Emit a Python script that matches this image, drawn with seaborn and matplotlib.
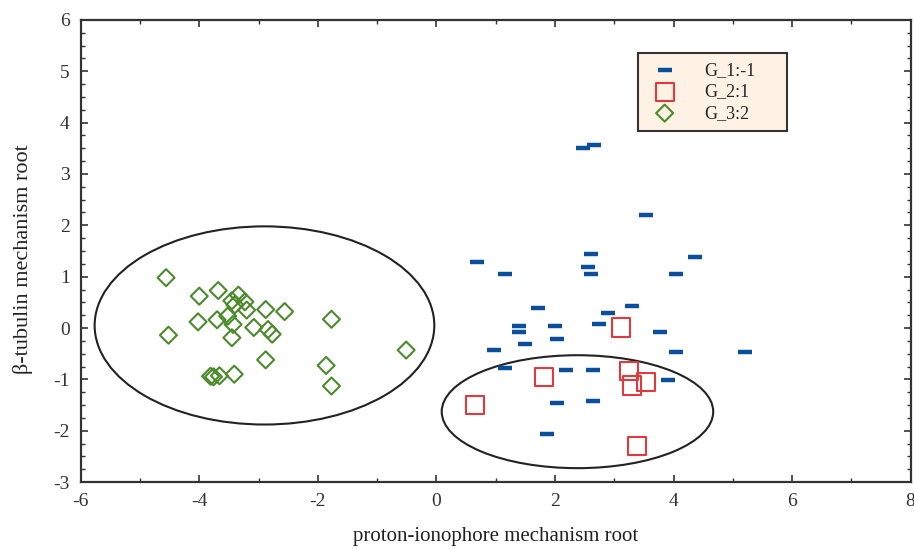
import matplotlib
matplotlib.use('Agg')
import matplotlib.pyplot as plt
import seaborn as sns
import pandas as pd
from matplotlib.patches import Ellipse
from matplotlib.ticker import MultipleLocator

# group G_1:-1 (blue dashes)
g1_x = [2.47, 2.66, 3.53, 0.69, 2.60, 4.36, 1.16, 2.55, 2.60, 4.04,
        1.72, 3.30, 2.89, 1.39, 1.39, 2.00, 2.75, 3.77, 2.04, 1.49,
        0.97, 4.04, 5.21, 1.16, 2.18, 2.65, 3.90, 2.04, 2.65, 1.86]
g1_y = [3.51, 3.56, 2.20, 1.29, 1.44, 1.39, 1.05, 1.19, 1.05, 1.05,
        0.39, 0.43, 0.29, 0.03, -0.07, 0.04, 0.08, -0.07, -0.21, -0.32,
        -0.42, -0.47, -0.47, -0.77, -0.82, -0.82, -1.01, -1.47, -1.42, -2.07]

# group G_2:1 (red squares)
g2_x = [3.11, 1.81, 3.25, 3.30, 3.54, 0.65, 3.39]
g2_y = [0.01, -0.95, -0.84, -1.12, -1.05, -1.50, -2.30]

# group G_3:2 (green diamonds)
g3_x = [-4.56, -4.00, -3.68, -3.34, -3.45, -3.40, -3.23, -3.20, -2.88, -2.56,
        -1.77, -4.02, -3.70, -3.52, -3.43, -3.08, -2.84, -2.77, -4.52, -3.45,
        -0.51, -2.88, -1.86, -1.77, -3.41, -3.81, -3.76, -3.66]
g3_y = [0.98, 0.62, 0.73, 0.64, 0.53, 0.45, 0.51, 0.35, 0.36, 0.32,
        0.17, 0.12, 0.16, 0.23, 0.07, 0.01, -0.03, -0.12, -0.14, -0.19,
        -0.43, -0.62, -0.73, -1.13, -0.90, -0.94, -0.95, -0.93]

# cluster ellipses: centre x, centre y, width, height
ellipses = [(-2.90, 0.05, 5.73, 3.86), (2.38, -1.63, 4.58, 2.20)]

sns.set_style('ticks')
plt.rcParams['font.family'] = ['Liberation Serif', 'DejaVu Serif']
plt.rcParams['axes.unicode_minus'] = False

fig = plt.figure(figsize=(9.14, 5.49), dpi=100)
ax = fig.add_axes([0.0883, 0.122, 0.908, 0.8416])

g1 = pd.DataFrame({'x': g1_x, 'y': g1_y})
g2 = pd.DataFrame({'x': g2_x, 'y': g2_y})
g3 = pd.DataFrame({'x': g3_x, 'y': g3_y})

sns.scatterplot(data=g1, x='x', y='y', marker='_', s=100, color='#0b4f9c',
                linewidth=3.2, label='G_1:-1', ax=ax, zorder=3)
sns.scatterplot(data=g2, x='x', y='y', marker='s', s=170, facecolor='none',
                edgecolor='#e0393e', linewidth=1.5, label='G_2:1', ax=ax, zorder=3)
sns.scatterplot(data=g3, x='x', y='y', marker='D', s=75, facecolor='none',
                edgecolor='#4c8a2c', linewidth=1.5, label='G_3:2', ax=ax, zorder=3)

for cx, cy, w, h in ellipses:
    ax.add_patch(Ellipse((cx, cy), w, h, fill=False, edgecolor='#222222', lw=1.5))

ax.set_xlim(-6, 8)
ax.set_ylim(-3, 6)
ax.xaxis.set_major_locator(MultipleLocator(2))
ax.xaxis.set_minor_locator(MultipleLocator(1))
ax.yaxis.set_major_locator(MultipleLocator(1))
ax.yaxis.set_minor_locator(MultipleLocator(0.25))
ax.tick_params(which='both', direction='in', top=True, right=True, colors='#333333')
ax.tick_params(which='major', length=5, width=1.2, labelsize=14, pad=8, labelcolor='#333333')
ax.tick_params(which='minor', length=3, width=1.0)
for sp in ax.spines.values():
    sp.set_linewidth(1.6)
    sp.set_color('#333333')

ax.set_xlabel('proton-ionophore mechanism root', fontsize=15, color='#222222', labelpad=12)
ax.set_ylabel('β-tubulin mechanism root', fontsize=16, color='#222222')
ax.yaxis.set_label_coords(-0.0575, 0.483)

leg = ax.legend(loc='upper left', bbox_to_anchor=(0.671, 0.829, 0.18, 0.1), mode='expand',
                fontsize=13, frameon=True, fancybox=False, borderpad=0.5, labelspacing=0.25,
                handletextpad=1.2, borderaxespad=0)
leg.get_frame().set_facecolor('#fdf2e4')
leg.get_frame().set_edgecolor('#333333')
leg.get_frame().set_linewidth(1.5)
leg.get_frame().set_alpha(1)

fig.savefig('out.png', dpi=100)
